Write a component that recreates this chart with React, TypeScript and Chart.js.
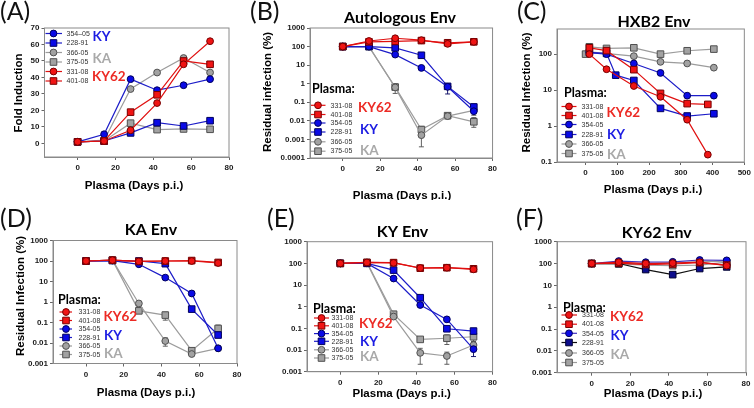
import React, { useEffect, useRef } from "react";
import { Chart, registerables } from "chart.js";

Chart.register(...registerables);

// ---------------- data ----------------
const PLASMA = ["331-08", "401-08", "354-05", "228-91", "366-05", "375-05"];
const DAYS = [0, 14, 28, 42, 56, 70];

const X_TICKS_DAYS = [0, 20, 40, 60, 80];
const X_TICKS_HXB2 = [0, 100, 200, 300, 400, 500];
const Y_TICKS_FOLD = [0, 10, 20, 30, 40, 50, 60, 70];
const Y_TICK_LABELS_FOLD = ["0", "10", "20", "30", "40", "50", "60", "70"];
const Y_TICKS_LOG4 = [0.0001, 0.001, 0.01, 0.1, 1, 10, 100, 1000];
const Y_TICK_LABELS_LOG4 = ["0.0001", "0.001", "0.01", "0.1", "1", "10", "100", "1000"];
const Y_TICKS_LOG3 = [0.001, 0.01, 0.1, 1, 10, 100, 1000];
const Y_TICK_LABELS_LOG3 = ["0.001", "0.01", "0.1", "1", "10", "100", "1000"];
const Y_TICKS_HXB2 = [0.1, 1, 10, 100];
const Y_TICK_LABELS_HXB2 = ["0.1", "1", "10", "100"];

// rows follow PLASMA order: 331-08, 401-08, 354-05, 228-91, 366-05, 375-05
const FOLD_INDUCTION = [
  [1, 1.5, 8, 24.5, 48, 62],
  [1, 1.5, 19, 29.5, 50, 48],
  [1, 5.6, 39, 32.3, 35.3, 39],
  [1, 1.5, 6.4, 12.6, 10.6, 13.8],
  [1, 2, 33, 43, 51.8, 43],
  [1, 1.5, 12.3, 8.4, 8.8, 8.6],
];

const AUTOLOGOUS = [
  [100, 200, 280, 220, 140, 180],
  [100, 180, 190, 210, 160, 180],
  [100, 100, 37, 7.1, 0.68, 0.033],
  [100, 100, 85, 34, 0.72, 0.056],
  [100, 100, 0.63, 0.0017, 0.018, 0.037],
  [100, 100, 0.66, 0.0034, 0.019, 0.0089],
];
// [series, day index, low, high]
const AUTOLOGOUS_ERR = [
  [4, 2, 0.3, 1.0],
  [4, 3, 0.0004, 0.005],
  [4, 5, 0.02, 0.06],
  [5, 5, 0.0045, 0.015],
  [2, 4, 0.28, 1.0],
  [3, 5, 0.035, 0.08],
  [5, 3, 0.002, 0.005],
];

const HXB2_DAYS = [
  [12, 66, 152, 236, 320, 385],
  [12, 66, 152, 236, 320, 385],
  [12, 66, 152, 236, 320, 404],
  [12, 66, 95, 152, 236, 320, 404],
  [12, 152, 236, 320, 404],
  [0, 12, 66, 152, 236, 320, 404],
];
const HXB2_INFECTION = [
  [100, 38, 13, 6.5, 1.5, 0.16],
  [150, 125, 37, 8.1, 4.2, 4.0],
  [110, 100, 55, 30, 7, 7],
  [110, 105, 26, 18.5, 3.1, 1.9, 2.2],
  [115, 88, 61, 55, 42],
  [100, 160, 144, 150, 100, 124, 138],
];

const KA_ENV = [
  [100, 110, 95, 100, 100, 80],
  [100, 110, 95, 100, 105, 85],
  [100, 105, 69, 15.5, 2.6, 0.0055],
  [100, 105, 100, 74, 0.45, 0.0245],
  [100, 110, 0.85, 0.0125, 0.0029, 0.0055],
  [100, 110, 0.37, 0.23, 0.0042, 0.051],
];
const KA_ENV_ERR = [
  [5, 2, 0.28, 0.5],
  [5, 3, 0.13, 0.32],
  [5, 5, 0.035, 0.075],
  [4, 3, 0.007, 0.018],
  [3, 4, 0.35, 0.6],
];

const KY_ENV = [
  [100, 110, 105, 61, 63, 53],
  [100, 110, 108, 60, 63, 56],
  [100, 100, 20, 1.2, 0.26, 0.011],
  [100, 100, 49, 2.6, 0.096, 0.075],
  [100, 105, 0.35, 0.0074, 0.0053, 0.017],
  [100, 110, 0.45, 0.031, 0.035, 0.041],
];
const KY_ENV_ERR = [
  [4, 3, 0.0022, 0.012],
  [4, 4, 0.0022, 0.008],
  [4, 5, 0.01, 0.025],
  [2, 5, 0.005, 0.018],
  [5, 4, 0.018, 0.05],
  [5, 5, 0.025, 0.06],
];

const KY62_ENV = [
  [100, 115, 100, 105, 115, 80],
  [100, 105, 90, 95, 110, 85],
  [100, 130, 115, 120, 145, 140],
  [100, 100, 53, 31, 59, 70],
  [100, 110, 95, 110, 120, 130],
  [100, 95, 85, 80, 85, 115],
];

// ---------------- styles ----------------
type Style = { shape: "circle" | "rect"; fill: string; edge: string; line: string };
const RED = { fill: "#f01414", edge: "#760000", line: "#e01010" };
const BLUE = { fill: "#0a0ae6", edge: "#00005c", line: "#1c1cc8" };
const GRAY = { fill: "#a2a2a2", edge: "#505050", line: "#9c9c9c" };
const STYLES: Style[] = [
  { shape: "circle", ...RED },
  { shape: "rect", ...RED },
  { shape: "circle", ...BLUE },
  { shape: "rect", ...BLUE },
  { shape: "circle", ...GRAY },
  { shape: "rect", ...GRAY },
];
const STYLES_F: Style[] = [
  STYLES[0],
  STYLES[1],
  { shape: "circle", fill: "#0a0ae6", edge: "#00005c", line: "#4030c0" },
  { shape: "rect", fill: "#0c0c8c", edge: "#000030", line: "#101010" },
  STYLES[4],
  STYLES[5],
];
const GROUP_COLOR: Record<string, string> = { KY62: "#ec2a24", KY: "#1c1ce2", KA: "#a9a9a9" };

const CIRCLE_R = 3.4;
const SQ = 6.6;
const TICK_FONT = { family: "'Liberation Sans', Arial, sans-serif", size: 8, weight: "bold" as const };
const AXIS_TITLE_FONT = "bold 11.5px 'Liberation Sans', Arial, sans-serif";
const LEGEND_FONT = "7px 'Liberation Sans', Arial, sans-serif";
const GROUP_FONT = "bold 13.5px Lato, 'Open Sans', sans-serif";
const PLASMA_FONT = "bold 12.5px Lato, 'Open Sans', sans-serif";
const TITLE_FONT = "bold 16px Lato, 'Open Sans', sans-serif";
const LABEL_FONT = "25px Lato, 'Open Sans', sans-serif";

// ---------------- panel config ----------------
type Series = { idx: number; xs: number[]; ys: number[]; err: number[][] };
type Legend = {
  titleAt?: [number, number];
  rows: number[];
  order: number[];
  lineX: [number, number];
  markX: number;
  textX: number;
  groups: [string, number, number][];
  names?: string[];
};
type PanelCfg = {
  id: string;
  box: [number, number, number, number];
  area: [number, number, number, number];
  xMin: number;
  xMax: number;
  xTicks: number[];
  yLog: boolean;
  yMin: number;
  yMax: number;
  yTicks: number[];
  yLabels: string[];
  series: Series[];
  styles: Style[];
  label: [string, number, number];
  title?: [string, number, number];
  xTitle: [number, number];
  yTitle?: [string, number, number];
  legend: Legend;
};

function daySeries(table: number[][], errs: number[][] = []): Series[] {
  return table.map((ys, i) => ({
    idx: i,
    xs: DAYS,
    ys,
    err: errs.filter((e) => e[0] === i).map((e) => [e[1], e[2], e[3]]),
  }));
}

const STD_ORDER = [0, 1, 2, 3, 4, 5];

const PANELS: PanelCfg[] = [
  {
    id: "A",
    box: [0, 0, 250, 200],
    area: [44.5, 28, 229, 157],
    xMin: -17.5, xMax: 80, xTicks: X_TICKS_DAYS,
    yLog: false, yMin: -8.2, yMax: 70, yTicks: Y_TICKS_FOLD, yLabels: Y_TICK_LABELS_FOLD,
    series: daySeries(FOLD_INDUCTION),
    styles: STYLES,
    label: ["(A)", 0, 12],
    xTitle: [134, 186],
    yTitle: ["Fold Induction", 19, 93],
    legend: {
      rows: [33.5, 43, 52.5, 62, 71.5, 81],
      order: [2, 3, 4, 5, 0, 1],
      lineX: [45.5, 62],
      markX: 53.5,
      textX: 66.5,
      groups: [["KY", 92.5, 36.5], ["KA", 92.5, 58.5], ["KY62", 92, 76.5]],
      names: ["331-08", "401-08", "354–05", "228-91", "366-05", "375-05"],
    },
  },
  {
    id: "B",
    box: [250, 0, 250, 200],
    area: [310, 28, 494.5, 158],
    xMin: -17.5, xMax: 80, xTicks: X_TICKS_DAYS,
    yLog: true, yMin: 0.0001, yMax: 1000, yTicks: Y_TICKS_LOG4, yLabels: Y_TICK_LABELS_LOG4,
    series: daySeries(AUTOLOGOUS, AUTOLOGOUS_ERR),
    styles: STYLES,
    label: ["(B)", 250, 12],
    title: ["Autologous Env", 400, 23],
    xTitle: [402, 195.5],
    yTitle: ["Residual infection (%)", 268, 92],
    legend: {
      titleAt: [312, 88.5],
      rows: [105.3, 114.5, 123, 132, 141.8, 151.2],
      order: STD_ORDER,
      lineX: [311, 325.5],
      markX: 318,
      textX: 330.5,
      groups: [["KY62", 358, 108], ["KY", 360, 130], ["KA", 360, 151]],
    },
  },
  {
    id: "C",
    box: [500, 0, 254, 200],
    area: [557, 29, 747, 162],
    xMin: -90, xMax: 500, xTicks: X_TICKS_HXB2,
    yLog: true, yMin: 0.1, yMax: 500, yTicks: Y_TICKS_HXB2, yLabels: Y_TICK_LABELS_HXB2,
    series: HXB2_INFECTION.map((ys, i) => ({ idx: i, xs: HXB2_DAYS[i], ys, err: [] })),
    styles: STYLES,
    label: ["(C)", 517, 12],
    title: ["HXB2 Env", 654, 26.5],
    xTitle: [653, 189.5],
    yTitle: ["Residual Infection (%)", 526.5, 92.5],
    legend: {
      titleAt: [564, 93],
      rows: [106.5, 115.5, 124.5, 134.5, 144, 153.5],
      order: STD_ORDER,
      lineX: [561.5, 576.5],
      markX: 569,
      textX: 581.5,
      groups: [["KY62", 606.5, 112.5], ["KY", 607, 135], ["KA", 607, 154.5]],
    },
  },
  {
    id: "D",
    box: [0, 200, 250, 208],
    area: [53, 240.5, 237, 363.5],
    xMin: -17.5, xMax: 80, xTicks: X_TICKS_DAYS,
    yLog: true, yMin: 0.001, yMax: 1000, yTicks: Y_TICKS_LOG3, yLabels: Y_TICK_LABELS_LOG3,
    series: daySeries(KA_ENV, KA_ENV_ERR),
    styles: STYLES,
    label: ["(D)", 0, 219],
    title: ["KA Env", 151, 235],
    xTitle: [146, 392.5],
    yTitle: ["Residual Infection (%)", 21, 296],
    legend: {
      titleAt: [58, 299.5],
      rows: [312, 320.5, 329, 337.5, 346, 354.5],
      order: STD_ORDER,
      lineX: [59.5, 72],
      markX: 66,
      textX: 78.5,
      groups: [["KY62", 103.5, 317], ["KY", 104, 336], ["KA", 104, 354]],
    },
  },
  {
    id: "E",
    box: [250, 200, 250, 208],
    area: [307, 241.7, 497, 371.7],
    xMin: -17.5, xMax: 80, xTicks: X_TICKS_DAYS,
    yLog: true, yMin: 0.001, yMax: 1000, yTicks: Y_TICKS_LOG3, yLabels: Y_TICK_LABELS_LOG3,
    series: daySeries(KY_ENV, KY_ENV_ERR),
    styles: STYLES,
    label: ["(E)", 267, 219],
    title: ["KY Env", 402.5, 236.5],
    xTitle: [401.7, 394],
    legend: {
      titleAt: [313, 308.5],
      rows: [318, 325.8, 333.6, 341.3, 349.8, 358],
      order: STD_ORDER,
      lineX: [314, 329],
      markX: 321.5,
      textX: 331.5,
      groups: [["KY62", 359, 324], ["KY", 360, 341.7], ["KA", 360, 357]],
    },
  },
  {
    id: "F",
    box: [500, 200, 254, 208],
    area: [557, 241.7, 746, 372.7],
    xMin: -18, xMax: 80, xTicks: X_TICKS_DAYS,
    yLog: true, yMin: 0.001, yMax: 1000, yTicks: Y_TICKS_LOG3, yLabels: Y_TICK_LABELS_LOG3,
    series: daySeries(KY62_ENV),
    styles: STYLES_F,
    label: ["(F)", 516, 219],
    title: ["KY62 Env", 656.7, 238],
    xTitle: [653, 394],
    legend: {
      titleAt: [563, 308],
      rows: [315, 324.2, 333.3, 342.5, 353, 362.5],
      order: STD_ORDER,
      lineX: [561.5, 577],
      markX: 569,
      textX: 582,
      groups: [["KY62", 610, 317], ["KY", 610.5, 335.5], ["KA", 610.5, 354.5]],
    },
  },
];

// ---------------- drawing helpers ----------------
function drawMarker(ctx: CanvasRenderingContext2D, st: Style, x: number, y: number) {
  ctx.beginPath();
  if (st.shape === "circle") ctx.arc(x, y, CIRCLE_R, 0, Math.PI * 2);
  else ctx.rect(x - SQ / 2, y - SQ / 2, SQ, SQ);
  ctx.fillStyle = st.fill;
  ctx.fill();
  ctx.lineWidth = 1;
  ctx.strokeStyle = st.edge;
  ctx.stroke();
}

function makePlugin(cfg: PanelCfg) {
  const ox = cfg.box[0];
  const oy = cfg.box[1];
  return {
    id: "panel" + cfg.id,
    beforeDatasetsDraw(chart: any) {
      const ctx: CanvasRenderingContext2D = chart.ctx;
      const ca = chart.chartArea;
      ctx.save();
      ctx.strokeStyle = "#8a8a8a";
      ctx.lineWidth = 1;
      ctx.strokeRect(ca.left, ca.top, ca.right - ca.left, ca.bottom - ca.top);
      // error bars
      const xs = chart.scales.x;
      const ys = chart.scales.y;
      chart.data.datasets.forEach((ds: any) => {
        const st: Style = ds.seriesStyle;
        (ds.err || []).forEach((e: number[]) => {
          const p = ds.data[e[0]];
          const px = xs.getPixelForValue(p.x);
          const y1 = ys.getPixelForValue(e[1]);
          const y2 = ys.getPixelForValue(e[2]);
          ctx.strokeStyle = st.edge;
          ctx.lineWidth = 0.9;
          ctx.beginPath();
          ctx.moveTo(px, y1);
          ctx.lineTo(px, y2);
          ctx.moveTo(px - 2.5, y1);
          ctx.lineTo(px + 2.5, y1);
          ctx.moveTo(px - 2.5, y2);
          ctx.lineTo(px + 2.5, y2);
          ctx.stroke();
        });
      });
      ctx.restore();
    },
    afterDraw(chart: any) {
      const ctx: CanvasRenderingContext2D = chart.ctx;
      ctx.save();
      // panel label
      ctx.fillStyle = "#111";
      ctx.font = LABEL_FONT;
      ctx.textAlign = "left";
      ctx.textBaseline = "middle";
      ctx.fillText(cfg.label[0], cfg.label[1] - ox, cfg.label[2] - oy);
      // title
      if (cfg.title) {
        ctx.font = TITLE_FONT;
        ctx.textAlign = "center";
        ctx.textBaseline = "alphabetic";
        ctx.fillStyle = "#000";
        ctx.fillText(cfg.title[0], cfg.title[1] - ox, cfg.title[2] - oy);
      }
      // axis titles
      ctx.font = AXIS_TITLE_FONT;
      ctx.fillStyle = "#000";
      ctx.textAlign = "center";
      ctx.textBaseline = "middle";
      ctx.fillText("Plasma (Days p.i.)", cfg.xTitle[0] - ox, cfg.xTitle[1] - oy);
      if (cfg.yTitle) {
        ctx.save();
        ctx.translate(cfg.yTitle[1] - ox, cfg.yTitle[2] - oy);
        ctx.rotate(-Math.PI / 2);
        ctx.fillText(cfg.yTitle[0], 0, 0);
        ctx.restore();
      }
      // legend
      const lg = cfg.legend;
      const names = lg.names || PLASMA;
      if (lg.titleAt) {
        ctx.font = PLASMA_FONT;
        ctx.fillStyle = "#000";
        ctx.textAlign = "left";
        ctx.textBaseline = "middle";
        ctx.fillText("Plasma:", lg.titleAt[0] - ox, lg.titleAt[1] - oy);
      }
      lg.order.forEach((si, r) => {
        const st = cfg.styles[si];
        const y = lg.rows[r] - oy;
        ctx.strokeStyle = st.line;
        ctx.lineWidth = 1.2;
        ctx.beginPath();
        ctx.moveTo(lg.lineX[0] - ox, y);
        ctx.lineTo(lg.lineX[1] - ox, y);
        ctx.stroke();
        drawMarker(ctx, st, lg.markX - ox, y);
        ctx.font = LEGEND_FONT;
        ctx.fillStyle = "#333";
        ctx.textAlign = "left";
        ctx.textBaseline = "middle";
        ctx.fillText(names[si], lg.textX - ox, y + 0.3);
      });
      lg.groups.forEach(([g, gx, gy]) => {
        ctx.font = GROUP_FONT;
        ctx.fillStyle = GROUP_COLOR[g];
        ctx.textAlign = "left";
        ctx.textBaseline = "middle";
        ctx.fillText(g, gx - ox, gy - oy);
      });
      ctx.restore();
    },
  };
}

function buildChart(canvas: HTMLCanvasElement, cfg: PanelCfg) {
  const [bx, by, bw, bh] = cfg.box;
  const [L, T, R, B] = cfg.area;
  const yW = L - bx;
  const xH = by + bh - B;
  const datasets = cfg.series.map((s) => {
    const st = cfg.styles[s.idx];
    return {
      label: PLASMA[s.idx],
      data: s.xs.map((x, i) => ({ x, y: s.ys[i] })),
      borderColor: st.line,
      borderWidth: 1.2,
      pointStyle: st.shape,
      pointRadius: st.shape === "circle" ? CIRCLE_R : SQ / Math.SQRT2,
      pointHoverRadius: st.shape === "circle" ? CIRCLE_R : SQ / Math.SQRT2,
      pointBackgroundColor: st.fill,
      pointBorderColor: st.edge,
      pointBorderWidth: 1,
      tension: 0,
      fill: false,
      clip: false,
      err: s.err,
      seriesStyle: st,
    } as any;
  });
  const gridCfg = {
    display: true,
    drawOnChartArea: false,
    drawTicks: true,
    tickLength: 3,
    color: "#666",
    lineWidth: 1,
  };
  const borderCfg = { display: true, color: "#8a8a8a", width: 1 };
  return new Chart(canvas, {
    type: "line",
    data: { datasets },
    options: {
      animation: false,
      responsive: false,
      maintainAspectRatio: false,
      events: [],
      layout: { padding: { left: 0, top: T - by, right: bx + bw - R, bottom: 0 } },
      plugins: { legend: { display: false }, title: { display: false }, tooltip: { enabled: false } },
      scales: {
        x: {
          type: "linear",
          min: cfg.xMin,
          max: cfg.xMax,
          afterBuildTicks: (s: any) => {
            s.ticks = cfg.xTicks.map((v) => ({ value: v }));
          },
          afterFit: (s: any) => {
            s.height = xH;
          },
          ticks: {
            font: TICK_FONT,
            color: "#1a1a1a",
            padding: 3,
            autoSkip: false,
            maxRotation: 0,
            callback: (v: any) => String(v),
          },
          grid: gridCfg,
          border: borderCfg,
        },
        y: {
          type: cfg.yLog ? "logarithmic" : "linear",
          min: cfg.yMin,
          max: cfg.yMax,
          afterBuildTicks: (s: any) => {
            s.ticks = cfg.yTicks.map((v) => ({ value: v }));
          },
          afterFit: (s: any) => {
            s.width = yW;
          },
          ticks: {
            font: TICK_FONT,
            color: "#1a1a1a",
            padding: 2,
            autoSkip: false,
            callback: (_v: any, i: number) => cfg.yLabels[i],
          },
          grid: gridCfg,
          border: borderCfg,
        },
      },
    } as any,
    plugins: [makePlugin(cfg)],
  });
}

function Panel({ cfg }: { cfg: PanelCfg }) {
  const ref = useRef<HTMLCanvasElement>(null);
  useEffect(() => {
    if (!ref.current) return;
    const chart = buildChart(ref.current, cfg);
    return () => chart.destroy();
  }, [cfg]);
  const [x, y, w, h] = cfg.box;
  return (
    <canvas
      ref={ref}
      width={w}
      height={h}
      style={{ position: "absolute", left: x, top: y, width: w, height: h }}
    />
  );
}

export default function App() {
  return (
    <div
      style={{
        position: "absolute",
        left: 0,
        top: 0,
        width: 754,
        height: 408,
        background: "#fff",
        overflow: "hidden",
      }}
    >
      {PANELS.map((p) => (
        <Panel key={p.id} cfg={p} />
      ))}
    </div>
  );
}
